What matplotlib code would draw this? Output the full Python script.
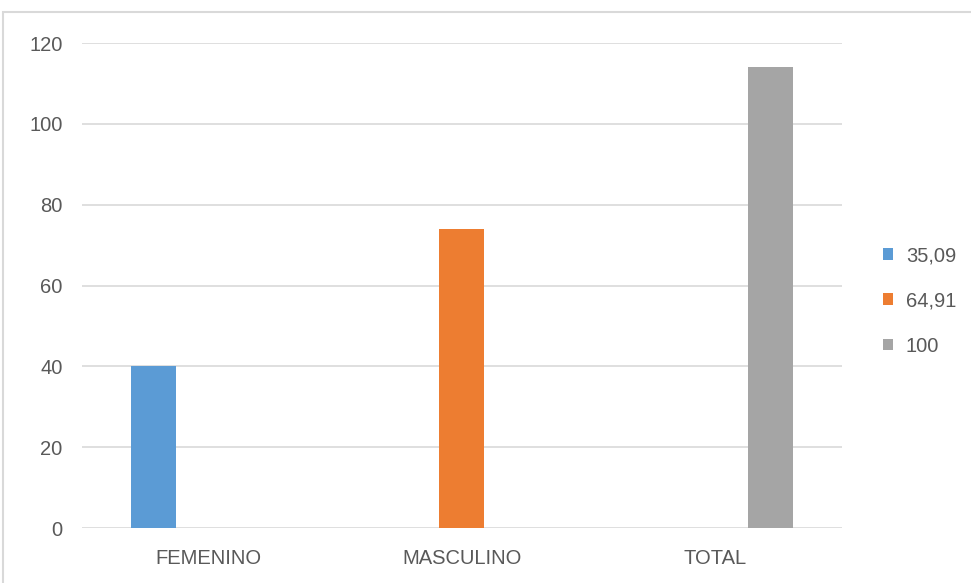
import numpy as np
import matplotlib
matplotlib.use('Agg')
import matplotlib.pyplot as plt
from matplotlib.patches import Rectangle

# Data
CATEGORIES = ['FEMENINO', 'MASCULINO', 'TOTAL']
SERIES     = ['35,09', '64,91', '100']
COLORS     = ['#5B9BD5', '#ED7D31', '#A5A5A5']
# one value per series, each sits in its own category slot
VALUES = {
    '35,09': [40, 0, 0],
    '64,91': [0, 74, 0],
    '100':   [0, 0, 114],
}
YTICKS = [0, 20, 40, 60, 80, 100, 120]

plt.rcParams['font.family'] = ['Liberation Sans', 'DejaVu Sans']

fig = plt.figure(figsize=(9.71, 5.83), dpi=100)
ax = fig.add_axes([0.0845, 0.0943, 0.7825, 0.8318])

x = np.arange(len(CATEGORIES))
width, step = 0.178, 0.217
for i, (name, col) in enumerate(zip(SERIES, COLORS)):
    vals = np.array(VALUES[name], dtype=float)
    ax.bar(x + (i - 1) * step, vals, width, color=col, label=name, zorder=3)

ax.set_xlim(-0.5, len(CATEGORIES) - 0.5)
ax.set_ylim(0, 120)
ax.set_yticks(YTICKS)
ax.set_xticks(x)
ax.set_xticklabels(CATEGORIES)
ax.tick_params(axis='y', length=0, pad=14, labelsize=14.5, labelcolor='#595959')
ax.tick_params(axis='x', length=0, pad=15, labelsize=14.5, labelcolor='#595959')
ax.grid(axis='y', color='#d9d9d9', linewidth=1.2, zorder=0)
ax.set_axisbelow(True)
for s in ax.spines.values():
    s.set_visible(False)

# chart border (cut off at right and bottom like the screenshot)
fig.patches.append(Rectangle((3 / 971, -0.2), 1.2, 1 - 12 / 583 + 0.2,
                             transform=fig.transFigure, fill=False,
                             edgecolor='#d9d9d9', linewidth=1.5))

fig.legend(loc='center left', bbox_to_anchor=(0.909, 0.484), frameon=False,
           fontsize=14.5, labelcolor='#595959', handlelength=0.5, handleheight=0.5,
           handletextpad=0.65, labelspacing=1.3, borderaxespad=0, borderpad=0)

fig.savefig('out.png', dpi=100)
